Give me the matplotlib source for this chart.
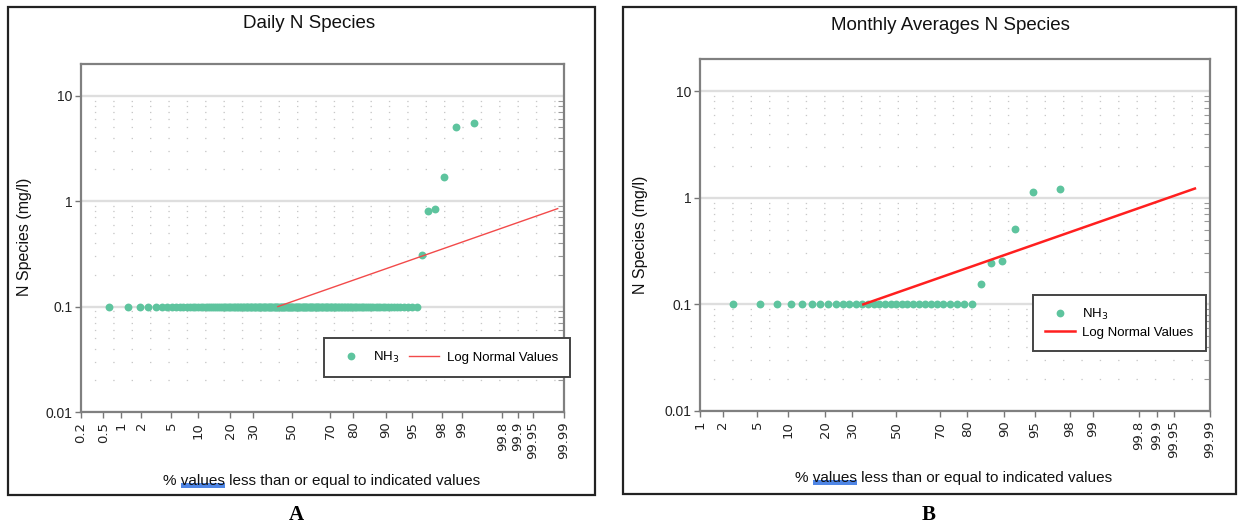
import numpy as np
import matplotlib
matplotlib.use("Agg")
import matplotlib.pyplot as plt
from matplotlib.lines import Line2D
from matplotlib.patches import Rectangle
from matplotlib.ticker import FixedLocator, NullFormatter, NullLocator
from matplotlib.transforms import IdentityTransform
from statistics import NormalDist

plt.rcParams['font.family'] = ['Liberation Sans', 'DejaVu Sans']

# Daily NH3 record (mg/l), sorted; 152 samples sit at the 0.1 reporting limit
daily_nh3 = [0.1] * 152 + [0.31, 0.81, 0.85, 1.7, 5.1, 5.5]
# Monthly average NH3 (mg/l), sorted
monthly_nh3 = [0.1] * 31 + [0.155, 0.245, 0.255, 0.51, 1.13, 1.22]

# Fitted log-normal lines: end points as (cumulative %, mg/l)
daily_fit_pct = [42.5, 99.986]
daily_fit_val = [0.1, 0.85]
monthly_fit_pct = [34.8, 99.98]
monthly_fit_val = [0.1, 1.22]

daily_ticks = ["0.2", "0.5", "1", "2", "5", "10", "20", "30", "50", "70",
               "80", "90", "95", "98", "99", "99.8", "99.9", "99.95", "99.99"]
monthly_ticks = ["1", "2", "5", "10", "20", "30", "50", "70", "80", "90",
                 "95", "98", "99", "99.8", "99.9", "99.95", "99.99"]
y_ticks = [0.01, 0.1, 1, 10]
y_ticklabels = ["0.01", "0.1", "1", "10"]

series_label = "NH$_3$"
fit_label = "Log Normal Values"
x_label = "% values less than or equal to indicated values"
y_label = "N Species (mg/l)"

GREEN = "#5ec49e"
W, H = 1238, 531

# normal-probability axis: cumulative percent <-> standard normal quantile
_nd = NormalDist()
_ppf = np.vectorize(lambda v: _nd.inv_cdf(v), otypes=[float])
_cdf = np.vectorize(lambda z: _nd.cdf(z), otypes=[float])


def prob_forward(p):
    p = np.clip(np.asarray(p, dtype=float) / 100.0, 1e-9, 1 - 1e-9)
    return _ppf(p)


def prob_inverse(z):
    return 100.0 * _cdf(np.asarray(z, dtype=float))


fig = plt.figure(figsize=(W / 100, H / 100), dpi=100)
fig.patch.set_facecolor("white")


def px_axes(x0, y0, x1, y1):
    return fig.add_axes([x0 / W, 1 - y1 / H, (x1 - x0) / W, (y1 - y0) / H])


def draw_panel(ax, values, fit_pct, fit_val, xlim, ticks, fit_color, fit_lw):
    n = len(values)
    positions = [100.0 * (i + 1) / (n + 1) for i in range(n)]
    ax.set_xscale('function', functions=(prob_forward, prob_inverse))
    ax.set_yscale('log')
    ax.set_xlim(*xlim)
    ax.set_ylim(0.01, 20)

    for y in y_ticks:
        ax.axhline(y, color="#dedede", lw=1.7, zorder=0)
    minor = [m * 10.0 ** e for e in (-2, -1, 0, 1) for m in range(2, 10)
             if m * 10.0 ** e < 20]
    for y in minor:
        ax.axhline(y, color="#c8c8c8", lw=0.9, linestyle=(4, (1.1, 13.6)), zorder=0)

    ax.scatter(positions, values, s=32, color=GREEN, linewidths=0, zorder=3)
    ax.plot(fit_pct, fit_val, color=fit_color, lw=fit_lw, zorder=4)

    ax.set_xticks([float(t) for t in ticks])
    ax.set_xticklabels(ticks, rotation=90, fontfamily="DejaVu Sans", fontsize=9.5,
                       color="#222222")
    ax.xaxis.set_minor_locator(NullLocator())
    ax.set_yticks(y_ticks)
    ax.set_yticklabels(y_ticklabels, fontsize=10, color="#222222")
    ax.yaxis.set_minor_locator(FixedLocator(minor))
    ax.yaxis.set_minor_formatter(NullFormatter())
    ax.tick_params(axis='x', which='major', direction='out', length=4, width=1,
                   color="#777777", pad=3)
    ax.tick_params(axis='y', which='major', direction='out', length=4, width=1,
                   color="#777777", pad=2)
    ax.tick_params(axis='y', which='minor', left=False, right=True, direction='in',
                   length=4, width=0.8, color="#999999")
    for sp in ax.spines.values():
        sp.set_color("#808080")
        sp.set_linewidth(1.6)


def add_legend(ax, anchor_px, ncol, fit_color, fit_lw):
    h1 = Line2D([], [], marker='o', linestyle='none', color=GREEN,
                markersize=5.6, markeredgewidth=0)
    h2 = Line2D([], [], color=fit_color, lw=fit_lw)
    leg = ax.legend([h1, h2], [series_label, fit_label], ncol=ncol, loc='upper left',
                    bbox_to_anchor=(anchor_px[0] / W, 1 - anchor_px[1] / H),
                    bbox_transform=fig.transFigure, frameon=True, fancybox=False,
                    edgecolor="#444444", framealpha=1, fontsize=9.5, borderpad=0.9,
                    handlelength=2.3, handletextpad=0.55, columnspacing=0.7,
                    labelspacing=0.35, numpoints=1, borderaxespad=0)
    leg.get_frame().set_linewidth(1.4)
    leg.set_zorder(6)


# panel A: daily values
axA = px_axes(81, 64, 564, 412)
draw_panel(axA, daily_nh3, daily_fit_pct, daily_fit_val, (0.2, 99.99), daily_ticks,
           "#f24a4a", 1.0)
add_legend(axA, (324, 338), 2, "#f24a4a", 1.0)

# panel B: monthly averages
axB = px_axes(700, 59, 1210, 411)
draw_panel(axB, monthly_nh3, monthly_fit_pct, monthly_fit_val, (1, 99.99), monthly_ticks,
           "#ff1f1f", 1.8)
add_legend(axB, (1033, 295), 1, "#ff1f1f", 1.8)

# panel frames
for x0, y0, x1, y1 in [(8, 7, 595, 495), (623, 7, 1236, 494)]:
    fig.add_artist(Rectangle((x0 / W, 1 - y1 / H), (x1 - x0) / W, (y1 - y0) / H,
                             transform=fig.transFigure, fill=False,
                             edgecolor="#222222", linewidth=1.6))

fig.text(309 / W, 1 - 23 / H, "Daily N Species", ha='center', va='center',
         fontsize=13.5, color="#111111")
fig.text(950 / W, 1 - 25 / H, "Monthly Averages N Species", ha='center', va='center',
         fontsize=13.5, color="#111111")

for x, y in [(25, 237), (641, 235)]:
    fig.text(x / W, 1 - y / H, y_label, rotation=90, ha='center', va='center',
             fontsize=11.5, color="#111111")

xlabels = []
for x, y in [(322, 481), (954, 478)]:
    xlabels.append(fig.text(x / W, 1 - y / H, x_label, ha='center', va='center',
                            fontsize=11, color="#111111", zorder=3))

fig.text(296 / W, 1 - 515 / H, "A", ha='center', va='center', fontsize=15,
         fontweight='bold', fontfamily='Liberation Serif')
fig.text(929 / W, 1 - 515 / H, "B", ha='center', va='center', fontsize=15,
         fontweight='bold', fontfamily='Liberation Serif')

# blue underline beneath the first "values" of each axis title
renderer = fig.canvas.get_renderer()


def text_width(s, ref):
    t = fig.text(0, 0, s, fontsize=ref.get_fontsize(), fontfamily=ref.get_fontfamily())
    w = t.get_window_extent(renderer).width
    t.remove()
    return w


for t in xlabels:
    bb = t.get_window_extent(renderer)
    w_full = text_width("% values", t)
    w_word = text_width("values", t)
    x_start = bb.x0 + w_full - w_word
    fig.add_artist(Rectangle((x_start, bb.y0 + 0.5), w_word, 4.5,
                             transform=IdentityTransform(), facecolor="#4f86e6",
                             edgecolor='none', zorder=2))

fig.savefig("out.png", dpi=100, facecolor="white")
